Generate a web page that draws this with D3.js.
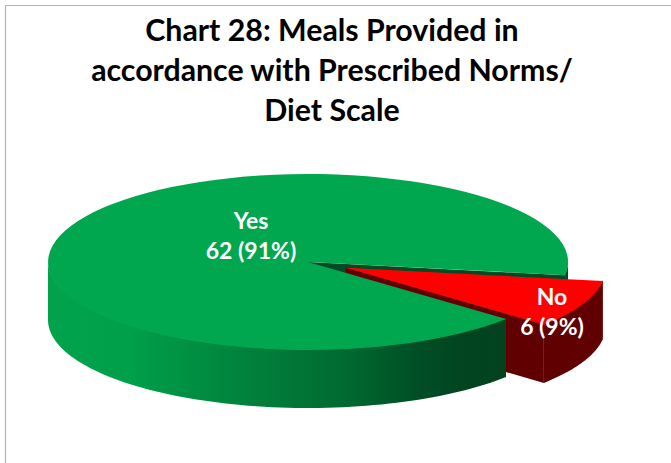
<!DOCTYPE html>
<html><head><meta charset="utf-8">
<script src="https://cdn.jsdelivr.net/npm/d3@7"></script>
<style>html,body{margin:0;padding:0;background:#fff;overflow:hidden}svg{display:block}text{font-family:Lato,"Open Sans",sans-serif;font-weight:700}</style>
</head><body><svg id="c" width="671" height="463"></svg>
<script>
const categories = ["Yes", "No"];
const values = [62, 6];
const valueLabels = ["62 (91%)", "6 (9%)"];
const titleLines = ["Chart 28: Meals Provided in", "accordance with Prescribed Norms/", "Diet Scale"];

const W = 671, H = 463, cx = 308, cy = 262, rx = 260, ry = 88, depth = 58, explode = 0.16;
const svg = d3.select("#c");
const defs = svg.append("defs");

const grad = defs.append("linearGradient").attr("id", "gSide").attr("gradientUnits", "userSpaceOnUse")
  .attr("x1", cx - rx).attr("x2", 507).attr("y1", 0).attr("y2", 0);
[[0, "#00a34d"], [0.18, "#009f4a"], [0.43, "#00823c"], [0.65, "#006a30"], [0.8, "#004f26"], [0.91, "#024420"], [1, "#03421f"]].forEach(s =>
  grad.append("stop").attr("offset", s[0]).attr("stop-color", s[1]));

// border of the chart area
svg.append("path").attr("d", d3.line()([[5.5, H], [5.5, 5.5], [W, 5.5]]))
  .attr("fill", "none").attr("stroke", "#b4b4b4").attr("stroke-width", 1.2);

svg.append("g").selectAll("text").data(titleLines).join("text")
  .attr("x", 332).attr("y", (d, i) => 41 + i * 40).attr("text-anchor", "middle")
  .attr("font-size", 30.3).attr("fill", "#000").text(d => d);

const toRad = d => d * Math.PI / 180;
const pie = d3.pie().sort(null).startAngle(toRad(130.4)).endAngle(toRad(130.4 + 360));
const slices = pie(values);
const yes = slices[0], no = slices[1];
const unitArc = d3.arc().innerRadius(0).outerRadius(1);

// a point on the ellipse for a d3 pie angle
const px = (a, o) => o[0] + rx * Math.sin(a);
const py = (a, o) => o[1] - ry * Math.cos(a);
const mid = (no.startAngle + no.endAngle) / 2;
const oYes = [cx, cy];
const oNo = [cx + explode * rx * Math.sin(mid), cy - explode * ry * Math.cos(mid)];

function drawTop(slice, o, fill) {
  return svg.append("path")
    .attr("transform", `translate(${o[0]},${o[1]}) scale(${rx},${ry})`)
    .attr("d", unitArc(slice)).attr("fill", fill);
}
function wall(a0, a1, o, fill) {
  const as = d3.range(0, 81).map(i => a0 + (a1 - a0) * i / 80);
  // the upper edge runs slightly under the top face so no light seam shows
  const upper = as.map(a => [px(a, o), py(a, o) - 1]);
  const lower = as.slice().reverse().map(a => [px(a, o), py(a, o) + depth]);
  return svg.append("path").attr("d", d3.line()(upper.concat(lower)) + "Z").attr("fill", fill);
}
function cut(a, o, fill) {
  const p = [[o[0], o[1]], [px(a, o), py(a, o)], [px(a, o), py(a, o) + depth], [o[0], o[1] + depth]];
  return svg.append("path").attr("d", d3.line()(p) + "Z").attr("fill", fill);
}

// Yes: cut face behind the exploded slice
const yesEnd = yes.endAngle - 2 * Math.PI;
cut(yesEnd, oYes, "#024a24");
wall(toRad(90), yesEnd, oYes, "#024a24");

// No slice
cut(no.endAngle, oNo, "#600000");
wall(no.startAngle, no.endAngle, oNo, "#600000");
drawTop(no, oNo, "#fe0000");

// Yes: front wall and top
wall(yes.startAngle, toRad(270), oYes, "url(#gSide)");
drawTop(yes, oYes, "#00a74f");

const labelPos = [[251, 229], [552, 305]];
categories.forEach((c, i) => {
  svg.append("text").attr("x", labelPos[i][0]).attr("y", labelPos[i][1]).attr("text-anchor", "middle")
    .attr("font-size", 23).attr("fill", "#fff").text(c);
  svg.append("text").attr("x", labelPos[i][0]).attr("y", labelPos[i][1] + 30).attr("text-anchor", "middle")
    .attr("font-size", 23).attr("fill", "#fff").text(valueLabels[i]);
});
</script></body></html>
